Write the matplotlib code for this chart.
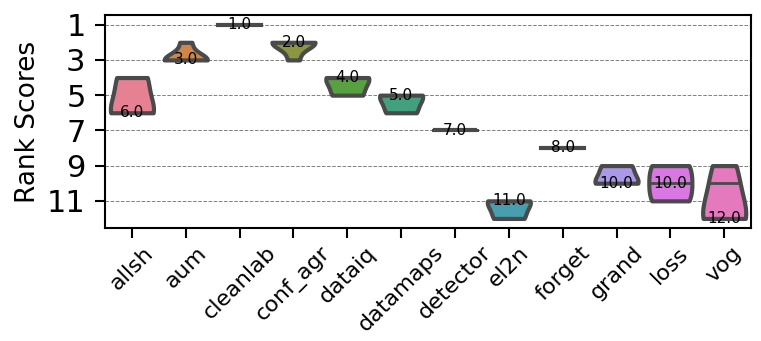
import matplotlib
matplotlib.use("Agg")
import matplotlib.pyplot as plt
from matplotlib.collections import LineCollection
import seaborn as sns
import pandas as pd
import numpy as np

methods = ["allsh", "aum", "cleanlab", "conf_agr", "dataiq", "datamaps",
           "detector", "el2n", "forget", "grand", "loss", "vog"]
allsh = [4, 4, 6, 6, 6]
aum = [2, 3, 3, 3, 3]
cleanlab = [1, 1, 1, 1, 1]
conf_agr = [2, 2, 2, 2, 3]
dataiq = [4, 4, 4, 5, 5]
datamaps = [5, 5, 5, 6, 6]
detector = [7, 7, 7, 7, 7]
el2n = [11, 11, 11, 12, 12]
forget = [8, 8, 8, 8, 8]
grand = [9, 9, 10, 10, 10]
loss = [9, 9, 10, 11, 11]
vog = [9, 10, 12, 12, 12]
series = [allsh, aum, cleanlab, conf_agr, dataiq, datamaps,
          detector, el2n, forget, grand, loss, vog]
yticks = [1, 3, 5, 7, 9, 11]

rows = []
for m, vals in zip(methods, series):
    for v in vals:
        rows.append({"method": m, "rank": v})
df = pd.DataFrame(rows)

fig = plt.figure(figsize=(7.61, 3.41), dpi=100)
ax = fig.add_axes([0.138, 0.331, 0.849, 0.625])
sns.violinplot(data=df, x="method", y="rank", hue="method", palette="husl",
               legend=False, cut=0, inner="quart", density_norm="width",
               bw_adjust=1.2, linewidth=3, linecolor="#4a4a4a", ax=ax, order=methods,
               inner_kws=dict(linewidth=2))
for coll in ax.collections:
    if isinstance(coll, LineCollection):
        coll.set_linestyle("-")
for line in ax.lines:
    line.set_linestyle("-")
for i, vals in enumerate(series):
    med = float(np.median(vals))
    ax.text(i, med, f"{med:.1f}", ha="center", va="center", fontsize=11, color="black")
ax.invert_yaxis()
ax.set_yticks(yticks)
ax.set_yticklabels([str(t) for t in yticks], fontsize=22)
ax.yaxis.grid(True, linestyle="--", color="gray", linewidth=0.7)
ax.set_axisbelow(True)
ax.set_xlabel("")
ax.set_ylabel("Rank Scores", fontsize=19)
plt.setp(ax.get_xticklabels(), rotation=45, fontsize=16)
ax.tick_params(axis="both", length=7, width=1.5)
ax.tick_params(axis="y", pad=7)
for s in ax.spines.values():
    s.set_linewidth(1.5)
fig.savefig("out.png", dpi=100)
